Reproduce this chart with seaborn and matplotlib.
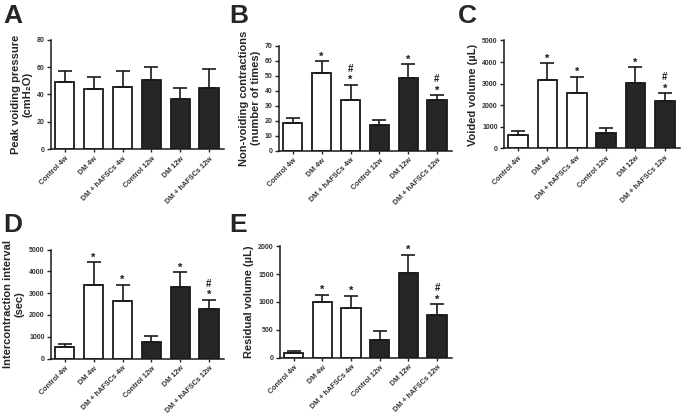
import matplotlib.pyplot as plt
import seaborn as sns
import pandas as pd

groups = ["Control 4w", "DM 4w", "DM + hAFSCs 4w",
          "Control 12w", "DM 12w", "DM + hAFSCs 12w"]
bar_colors = ["white", "white", "white", "#262626", "#262626", "#262626"]

# mean and upper error (SEM)
pressure_mean = [49.0, 43.8, 45.8, 50.5, 36.9, 45.1]
pressure_sem = [8.0, 9.4, 11.4, 9.9, 8.2, 13.6]
pressure_marks = ["", "", "", "", "", ""]

contractions_mean = [18.2, 51.4, 33.9, 17.1, 48.1, 33.7]
contractions_sem = [3.8, 8.2, 9.8, 3.5, 9.3, 3.1]
contractions_marks = ["", "*", "*#", "", "*", "*#"]

voided_mean = [630, 3180, 2580, 700, 3040, 2210]
voided_sem = [190, 770, 740, 240, 730, 340]
voided_marks = ["", "*", "*", "", "*", "*#"]

interval_mean = [535, 3360, 2630, 750, 3290, 2280]
interval_sem = [125, 1060, 750, 290, 670, 410]
interval_marks = ["", "*", "*", "", "*", "*#"]

residual_mean = [85, 1003, 889, 318, 1520, 757]
residual_sem = [25, 126, 228, 156, 330, 198]
residual_marks = ["", "*", "*", "", "*", "*#"]

sns.set_style("ticks")
plt.rcParams["font.family"] = ["Liberation Sans", "DejaVu Sans"]
plt.rcParams["font.weight"] = "bold"
plt.rcParams["axes.labelweight"] = "bold"

W, H = 685, 419
fig = plt.figure(figsize=(W / 100, H / 100), dpi=100)

# letter, ylabel, mean, sem, marks, ylim, step, pixel box (left, right, top, bottom)
panels = [
    ("A", "Peak voiding pressure\n(cmH\u2082O)", pressure_mean, pressure_sem,
     pressure_marks, 80, 20, (51, 224, 40, 149)),
    ("B", "Non-voiding contractions\n(number of times)", contractions_mean,
     contractions_sem, contractions_marks, 70, 10, (279, 452, 45.5, 150.5)),
    ("C", "Voided volume (\u00b5L)", voided_mean, voided_sem, voided_marks,
     5000, 1000, (504, 680, 40.5, 148.5)),
    ("D", "Intercontraction interval\n(sec)", interval_mean, interval_sem,
     interval_marks, 5000, 1000, (51, 224, 249.5, 358.5)),
    ("E", "Residual volume (\u00b5L)", residual_mean, residual_sem,
     residual_marks, 2000, 500, (280, 452, 246.5, 357.5)),
]

for letter, ylabel, mean, sem, marks, ymax, step, box in panels:
    l, r, t, b = box
    ax = fig.add_axes([l / W, 1 - b / H, (r - l) / W, (b - t) / H])
    df = pd.DataFrame({"group": groups, "value": mean})
    sns.barplot(data=df, x="group", y="value", hue="group",
                palette=dict(zip(groups, bar_colors)), order=groups,
                edgecolor="#1a1a1a", linewidth=1.3, width=0.67,
                errorbar=None, legend=False, ax=ax)
    ax.errorbar(range(len(groups)), mean,
                yerr=[[0] * len(groups), sem], fmt="none",
                ecolor="#1a1a1a", elinewidth=1.2, capsize=5,
                capthick=1.2, zorder=1)
    for i, m in enumerate(marks):
        top = mean[i] + sem[i]
        if "*" in m:
            ax.annotate("*", xy=(i, top), xytext=(0, 1.2),
                        textcoords="offset points", ha="center",
                        va="baseline", fontsize=8, color="#1a1a1a")
        if "#" in m:
            ax.annotate("#", xy=(i, top), xytext=(0, 9.5),
                        textcoords="offset points", ha="center",
                        va="baseline", fontsize=7, color="#1a1a1a")

    ax.set_xlim(-0.48, 5.52)
    ax.set_ylim(0, ymax)
    ax.set_yticks(range(0, ymax + 1, step))
    ax.set_xlabel("")
    ax.set_ylabel(ylabel, fontsize=8, fontweight="bold", labelpad=3,
                  linespacing=1.2)
    ax.set_xticks(range(len(groups)))
    ax.set_xticklabels(groups, rotation=45, ha="right",
                       rotation_mode="anchor", fontsize=5.2,
                       fontweight="bold", color="#333333")
    ax.tick_params(axis="y", labelsize=5, length=3, width=1, pad=1.5,
                   labelcolor="#333333")
    ax.tick_params(axis="x", length=2.5, width=1, pad=2)
    for s in ["left", "bottom"]:
        ax.spines[s].set_linewidth(1.1)
        ax.spines[s].set_color("#1a1a1a")
    sns.despine(ax=ax)

    lx = {"A": 3, "B": 229, "C": 458, "D": 3, "E": 229}[letter]
    ly = 4 if letter in "ABC" else 213
    fig.text(lx / W, 1 - ly / H, letter, fontsize=19, fontweight="bold",
             ha="left", va="top")

fig.savefig("out.png", dpi=100)
